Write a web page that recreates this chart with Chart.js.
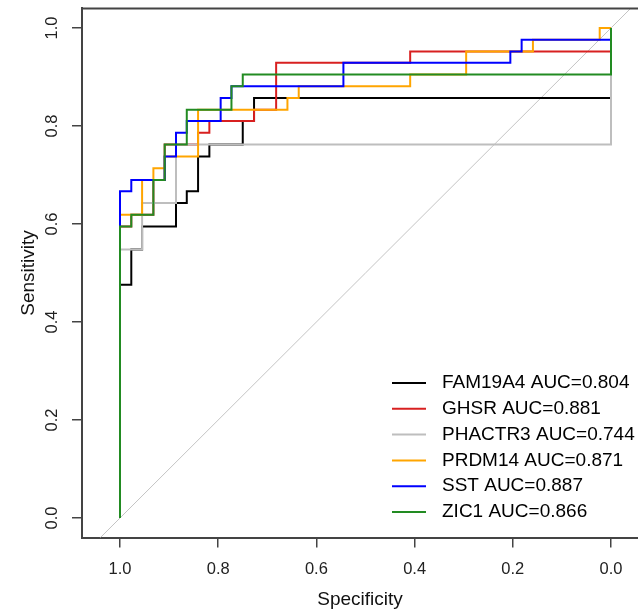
<!DOCTYPE html>
<html>
<head>
<meta charset="utf-8">
<script src="https://cdn.jsdelivr.net/npm/chart.js@4/dist/chart.umd.min.js"></script>
<style>
html,body{margin:0;padding:0;background:#fff;overflow:hidden;}
#wrap{position:relative;width:638px;height:610px;}
canvas{display:block;}
</style>
</head>
<body>
<div id="wrap"><canvas id="c" width="638" height="610"></canvas></div>
<script>
// ---- data (specificity / sensitivity step vertices) ----
const genes = ["FAM19A4", "GHSR", "PHACTR3", "PRDM14", "SST", "ZIC1"];
const aucs = ["0.804", "0.881", "0.744", "0.871", "0.887", "0.866"];
const colors = ["#000000", "#D82020", "#BEBEBE", "#FFA500", "#0000FF", "#228B22"];

const fam19a4Spec = [1,1,0.977,0.977,0.955,0.955,0.886,0.886,0.864,0.864,0.841,0.841,0.818,0.818,0.75,0.75,0.727,0.727,0,0];
const fam19a4Sens = [0,0.476,0.476,0.548,0.548,0.595,0.595,0.643,0.643,0.667,0.667,0.738,0.738,0.762,0.762,0.810,0.810,0.857,0.857,1];

const ghsrSpec = [1,1,0.977,0.977,0.932,0.932,0.909,0.909,0.841,0.841,0.818,0.818,0.727,0.727,0.682,0.682,0.409,0.409,0,0];
const ghsrSens = [0,0.595,0.595,0.619,0.619,0.690,0.690,0.762,0.762,0.786,0.786,0.810,0.810,0.833,0.833,0.929,0.929,0.952,0.952,1];

const phactr3Spec = [1,1,0.955,0.955,0.886,0.886,0,0];
const phactr3Sens = [0,0.548,0.548,0.643,0.643,0.762,0.762,1];

const prdm14Spec = [1,1,0.955,0.955,0.932,0.932,0.909,0.909,0.841,0.841,0.659,0.659,0.636,0.636,0.409,0.409,0.295,0.295,0.159,0.159,0.023,0.023,0];
const prdm14Sens = [0,0.619,0.619,0.690,0.690,0.714,0.714,0.738,0.738,0.833,0.833,0.857,0.857,0.881,0.881,0.905,0.905,0.952,0.952,0.976,0.976,1,1];

const sstSpec = [1,1,0.977,0.977,0.909,0.909,0.886,0.886,0.864,0.864,0.795,0.795,0.773,0.773,0.545,0.545,0.205,0.205,0.182,0.182,0,0];
const sstSens = [0,0.667,0.667,0.690,0.690,0.738,0.738,0.786,0.786,0.810,0.810,0.857,0.857,0.881,0.881,0.929,0.929,0.952,0.952,0.976,0.976,1];

const zic1Spec = [1,1,0.977,0.977,0.932,0.932,0.909,0.909,0.864,0.864,0.773,0.773,0.75,0.75,0,0];
const zic1Sens = [0,0.595,0.595,0.619,0.619,0.690,0.690,0.762,0.762,0.833,0.833,0.881,0.881,0.905,0.905,1];

// chance (identity) line
const chanceSpec = [1.1, -0.1];
const chanceSens = [-0.1, 1.1];

// tick labels
const tickValues = [0, 0.2, 0.4, 0.6, 0.8, 1.0];

// ---- build ----
const specList = [fam19a4Spec, ghsrSpec, phactr3Spec, prdm14Spec, sstSpec, zic1Spec];
const sensList = [fam19a4Sens, ghsrSens, phactr3Sens, prdm14Sens, sstSens, zic1Sens];
const toPoints = (xs, ys) => xs.map((x, i) => ({x: x, y: ys[i]}));

const FONT = '"Liberation Sans", Arial, Helvetica, sans-serif';
const AXIS_COLOR = '#444444';

const datasets = genes.map((g, i) => ({
  label: g + ' AUC=' + aucs[i],
  data: toPoints(specList[i], sensList[i]),
  borderColor: colors[i],
  backgroundColor: colors[i],
  borderWidth: 2,
  pointRadius: 0,
  tension: 0,
  fill: false,
  order: genes.length - i
}));
datasets.push({
  label: '',
  data: toPoints(chanceSpec, chanceSens),
  borderColor: '#C4C4C4',
  borderWidth: 1,
  pointRadius: 0,
  tension: 0,
  fill: false,
  order: genes.length + 1
});

const setTicks = scale => { scale.ticks = tickValues.map(v => ({value: v})); };
const noPad = s => { s.paddingTop = 0; s.paddingBottom = 0; s.paddingLeft = 0; s.paddingRight = 0; };

const boxTop = {
  id: 'boxTop',
  afterDraw(chart) {
    const {ctx, chartArea} = chart;
    ctx.save();
    ctx.strokeStyle = AXIS_COLOR;
    ctx.lineWidth = 2;
    ctx.beginPath();
    ctx.moveTo(chartArea.left - 1, chartArea.top);
    ctx.lineTo(chartArea.right, chartArea.top);
    ctx.stroke();
    ctx.restore();
  }
};

const rocLegend = {
  id: 'rocLegend',
  afterDraw(chart) {
    const ctx = chart.ctx;
    ctx.save();
    ctx.font = '19px ' + FONT;
    ctx.textBaseline = 'middle';
    ctx.textAlign = 'left';
    genes.forEach((g, j) => {
      const ds = chart.data.datasets[j];
      const y = 383 + j * 25.8;
      ctx.strokeStyle = ds.borderColor;
      ctx.lineWidth = 2;
      ctx.beginPath();
      ctx.moveTo(392, y);
      ctx.lineTo(426, y);
      ctx.stroke();
      ctx.fillStyle = '#000';
      ctx.fillText(ds.label, 442, y);
    });
    ctx.restore();
  }
};

new Chart(document.getElementById('c'), {
  type: 'line',
  data: {datasets: datasets},
  options: {
    responsive: false,
    animation: false,
    devicePixelRatio: 1,
    layout: {padding: {top: 8.4, right: 0, bottom: 0, left: 0}},
    plugins: {legend: {display: false}, tooltip: {enabled: false}},
    scales: {
      x: {
        type: 'linear',
        reverse: true,
        min: -0.055,
        max: 1.0774,
        afterBuildTicks: setTicks,
        afterFit: s => { s.height = 72.4; noPad(s); },
        ticks: {
          callback: v => Number(v).toFixed(1),
          font: {size: 16.5, family: FONT},
          color: '#222',
          padding: 12,
          maxRotation: 0,
          minRotation: 0,
          autoSkip: false
        },
        grid: {display: true, drawOnChartArea: false, drawTicks: true, tickLength: 10, color: AXIS_COLOR, lineWidth: 1.5},
        border: {display: true, color: AXIS_COLOR, width: 2},
        title: {display: true, text: 'Specificity', color: '#111', font: {size: 19, family: FONT, lineHeight: 1}, padding: {top: 0, bottom: 1}}
      },
      y: {
        type: 'linear',
        min: -0.04,
        max: 1.04,
        afterBuildTicks: setTicks,
        afterFit: s => { s.width = 82; noPad(s); },
        ticks: {
          callback: v => Number(v).toFixed(1),
          font: {size: 16.5, family: FONT},
          color: '#222',
          padding: 8,
          minRotation: 90,
          maxRotation: 90,
          crossAlign: 'center',
          autoSkip: false
        },
        grid: {display: true, drawOnChartArea: false, drawTicks: true, tickLength: 10, color: AXIS_COLOR, lineWidth: 1.5},
        border: {display: true, color: AXIS_COLOR, width: 2},
        title: {display: true, text: 'Sensitivity', color: '#111', font: {size: 19, family: FONT, lineHeight: 1}, padding: {top: 19, bottom: 0}}
      }
    }
  },
  plugins: [boxTop, rocLegend]
});
</script>
</body>
</html>
